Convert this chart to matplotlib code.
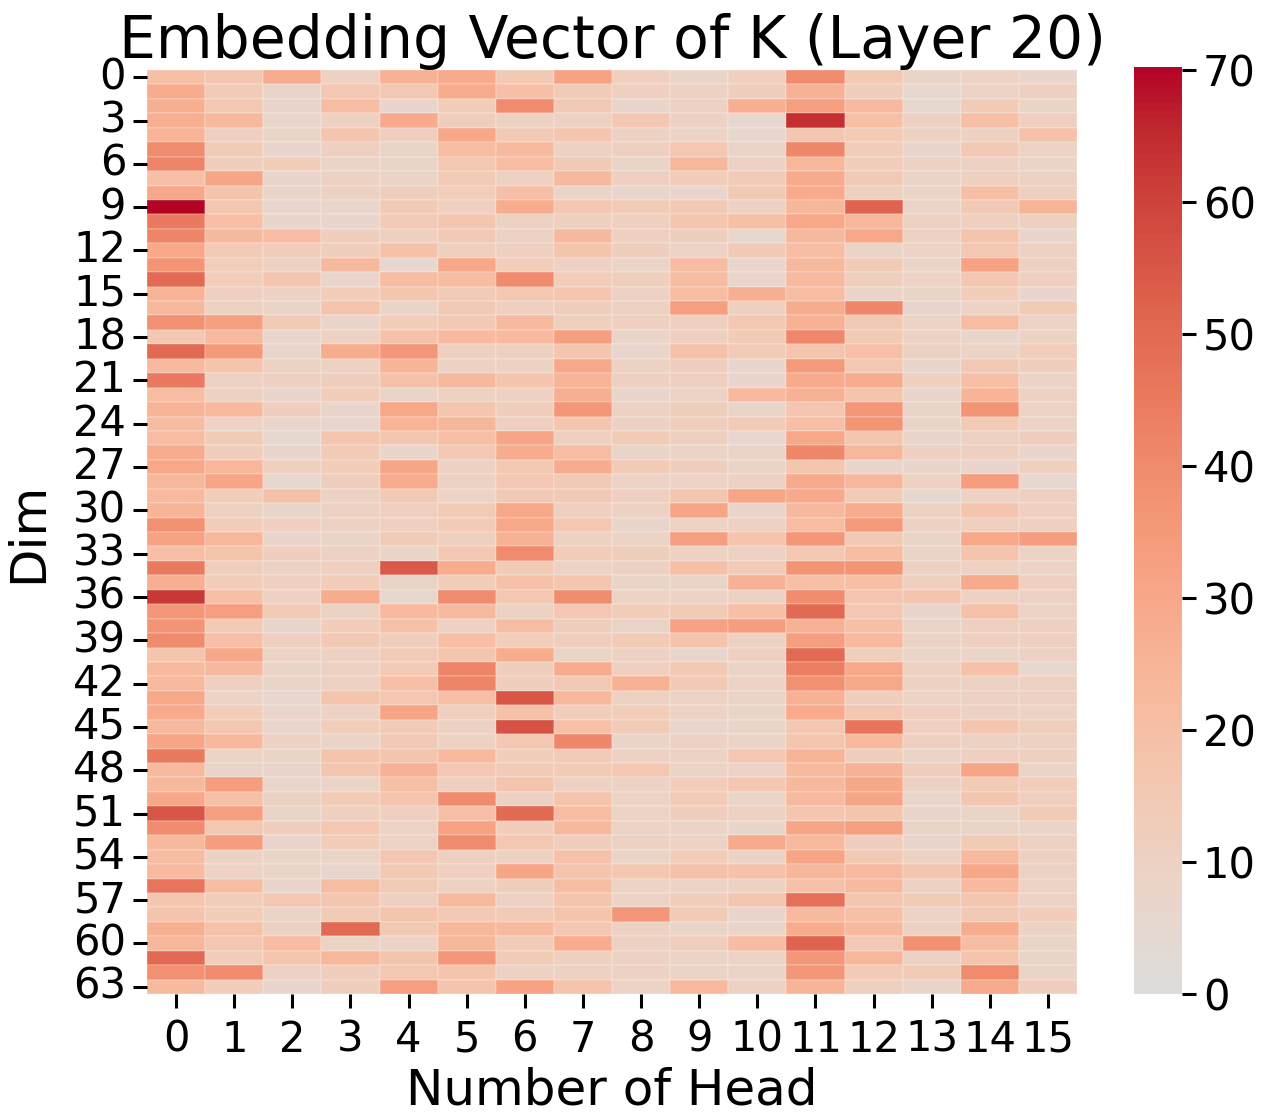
#!/usr/bin/env python3
"""Heatmap of |K| embedding values per head and dim (layer 20)."""

import numpy as np
import matplotlib
matplotlib.use("Agg")
import matplotlib.pyplot as plt
import seaborn as sns

heads = list(range(16))
dims = list(range(64))

# one row per dim, one value per head (0..15)
k_rows = [
    [20, 17, 28, 10, 26, 29, 15, 32, 11, 8, 11, 40, 15, 8, 9, 7],      # 0
    [28, 14, 8, 16, 16, 28, 20, 14, 11, 10, 12, 26, 12, 6, 9, 11],
    [27, 16, 7, 21, 7, 13, 40, 15, 7, 10, 27, 33, 22, 6, 14, 8],
    [27, 23, 7, 10, 29, 12, 10, 10, 16, 10, 6, 64, 20, 10, 20, 11],
    [25, 11, 8, 17, 12, 30, 15, 17, 10, 9, 6, 16, 14, 10, 10, 19],
    [40, 14, 7, 11, 8, 21, 22, 10, 11, 16, 8, 41, 13, 7, 15, 9],
    [42, 12, 13, 8, 8, 16, 21, 15, 8, 24, 10, 24, 13, 10, 10, 8],
    [20, 31, 7, 10, 8, 14, 10, 23, 11, 13, 14, 29, 15, 8, 11, 10],
    [30, 18, 8, 10, 12, 13, 20, 8, 7, 7, 15, 29, 11, 8, 20, 11],
    [70.2, 16, 7, 7, 15, 11, 28, 16, 14, 15, 10, 24, 52, 8, 15, 25],
    [45, 20, 7, 7, 14, 17, 10, 11, 11, 17, 20, 30, 24, 10, 11, 11],   # 10
    [42, 23, 21, 12, 11, 15, 10, 23, 11, 12, 6, 23, 30, 10, 18, 7],
    [30, 14, 13, 12, 19, 11, 11, 18, 12, 9, 15, 21, 8, 9, 16, 10],
    [37, 13, 10, 23, 6, 30, 13, 10, 8, 21, 7, 23, 14, 8, 32, 10],
    [50, 13, 17, 7, 21, 21, 40, 13, 12, 21, 7, 22, 12, 9, 16, 11],
    [25, 11, 10, 13, 17, 14, 16, 17, 10, 21, 27, 21, 8, 8, 13, 7],
    [23, 10, 8, 18, 8, 15, 11, 12, 10, 33, 11, 28, 41, 7, 9, 14],
    [38, 33, 14, 7, 13, 15, 22, 11, 11, 11, 16, 26, 15, 9, 21, 9],
    [16, 22, 7, 10, 19, 22, 22, 33, 8, 11, 14, 41, 14, 9, 7, 9],
    [50, 35, 7, 28, 36, 11, 11, 17, 7, 19, 14, 18, 20, 10, 9, 13],
    [22, 18, 10, 10, 25, 10, 10, 30, 10, 12, 7, 35, 16, 7, 15, 12],   # 20
    [45, 10, 11, 12, 19, 23, 18, 25, 11, 11, 7, 29, 28, 11, 20, 8],
    [21, 10, 7, 13, 8, 10, 10, 27, 7, 9, 22, 26, 18, 7, 25, 10],
    [25, 22, 12, 7, 30, 17, 12, 36, 10, 12, 8, 17, 36, 8, 37, 9],
    [21, 9, 7, 7, 25, 24, 11, 17, 10, 12, 14, 20, 37, 8, 14, 9],
    [21, 14, 6, 17, 17, 20, 31, 11, 14, 11, 6, 30, 17, 7, 10, 12],
    [28, 12, 7, 14, 7, 15, 28, 21, 8, 8, 8, 41, 24, 11, 11, 7],
    [30, 24, 11, 13, 31, 10, 16, 28, 14, 12, 8, 17, 7, 7, 7, 11],
    [24, 31, 6, 12, 28, 10, 16, 15, 9, 9, 10, 29, 24, 10, 34, 6],
    [22, 13, 19, 10, 15, 9, 15, 15, 11, 17, 31, 29, 14, 6, 10, 11],
    [25, 10, 7, 10, 11, 14, 30, 11, 10, 31, 7, 23, 28, 10, 18, 11],   # 30
    [38, 13, 11, 10, 11, 14, 30, 16, 7, 9, 10, 21, 35, 10, 11, 11],
    [32, 24, 7, 8, 14, 11, 26, 10, 9, 33, 18, 36, 15, 8, 30, 34],
    [20, 18, 12, 10, 8, 16, 40, 13, 12, 10, 10, 16, 21, 8, 18, 9],
    [45, 12, 10, 11, 54, 28, 14, 10, 10, 20, 14, 37, 37, 10, 10, 9],
    [27, 13, 11, 13, 8, 13, 19, 17, 8, 8, 26, 20, 20, 11, 29, 11],
    [62, 20, 10, 28, 6, 40, 16, 39, 9, 9, 10, 39, 17, 18, 10, 10],
    [36, 33, 14, 10, 22, 22, 10, 16, 13, 14, 20, 50, 16, 7, 19, 9],
    [37, 14, 7, 13, 19, 10, 21, 12, 8, 32, 34, 26, 20, 8, 11, 11],
    [40, 20, 11, 15, 12, 20, 13, 12, 14, 18, 10, 33, 22, 9, 11, 11],
    [18, 30, 9, 10, 14, 17, 28, 8, 10, 7, 11, 50, 12, 8, 8, 10],      # 40
    [22, 23, 8, 10, 14, 42, 12, 28, 11, 15, 8, 44, 30, 10, 19, 6],
    [22, 11, 8, 10, 20, 42, 12, 15, 26, 15, 9, 38, 30, 10, 10, 10],
    [30, 9, 6, 18, 16, 20, 55, 24, 10, 9, 8, 26, 12, 9, 10, 10],
    [29, 13, 7, 9, 31, 11, 19, 12, 13, 9, 8, 29, 16, 11, 10, 9],
    [23, 16, 7, 13, 14, 10, 56, 20, 14, 7, 8, 16, 47, 11, 17, 12],
    [31, 23, 10, 8, 15, 10, 16, 41, 8, 10, 8, 17, 22, 11, 10, 10],
    [45, 9, 8, 18, 18, 22, 13, 14, 10, 10, 16, 25, 12, 8, 11, 11],
    [22, 8, 7, 17, 26, 16, 14, 14, 16, 9, 9, 22, 26, 12, 31, 8],
    [23, 34, 7, 8, 20, 11, 18, 10, 9, 13, 16, 23, 30, 10, 14, 13],
    [30, 20, 10, 14, 18, 40, 10, 18, 9, 14, 8, 22, 31, 7, 17, 11],    # 50
    [55, 33, 8, 11, 11, 20, 50, 21, 9, 12, 10, 17, 18, 7, 8, 14],
    [40, 16, 12, 16, 9, 32, 13, 23, 9, 8, 7, 31, 33, 8, 8, 8],
    [23, 34, 7, 13, 9, 40, 16, 12, 10, 9, 29, 22, 12, 7, 14, 10],
    [21, 9, 8, 8, 16, 11, 10, 19, 8, 13, 9, 31, 15, 10, 22, 10],
    [22, 9, 8, 7, 15, 11, 31, 18, 16, 19, 19, 24, 22, 17, 30, 10],
    [47, 21, 7, 21, 14, 10, 12, 21, 9, 9, 10, 19, 22, 10, 22, 9],
    [17, 13, 16, 17, 11, 22, 10, 18, 9, 13, 17, 48, 17, 14, 17, 9],
    [18, 13, 8, 14, 18, 15, 14, 18, 36, 14, 7, 22, 20, 9, 15, 13],
    [27, 19, 10, 50, 15, 24, 22, 16, 10, 8, 8, 28, 23, 10, 28, 9],
    [24, 16, 21, 9, 9, 24, 14, 28, 10, 12, 21, 52, 15, 38, 21, 8],    # 60
    [50, 13, 17, 24, 18, 36, 14, 11, 10, 9, 9, 36, 24, 10, 18, 8],
    [38, 40, 10, 12, 16, 18, 10, 10, 10, 8, 8, 36, 14, 14, 40, 8],
    [22, 13, 7, 12, 33, 18, 32, 18, 9, 22, 10, 25, 11, 8, 29, 12],
]

cbar_ticks = [0, 10, 20, 30, 40, 50, 60, 70]

plt.rcParams.update({
    "font.family": "DejaVu Sans",
    "font.size": 30,
})

data = np.array(k_rows, dtype=float)

fig = plt.figure(figsize=(12.62, 11.2), dpi=100)
ax = fig.add_axes([147 / 1262, 1 - 994 / 1120, 930 / 1262, 924 / 1120])
cax = fig.add_axes([1134 / 1262, 1 - 994 / 1120, 48 / 1262, 927 / 1120])

sns.heatmap(
    data, ax=ax, cbar_ax=cax, cmap="coolwarm", center=0, vmin=0,
    linewidths=0.3, linecolor=(1, 1, 1, 0.15),
    xticklabels=heads, yticklabels=dims,
)

ax.set_yticks(np.arange(0, 64, 3) + 0.5)
ax.set_yticklabels([str(d) for d in dims[::3]], rotation=0)
ax.set_xticks(np.arange(16) + 0.5)
ax.set_xticklabels([str(h) for h in heads], rotation=0)
ax.tick_params(axis="y", labelsize=30, length=10, width=2.2, pad=5)
ax.tick_params(axis="x", labelsize=30, length=10, width=2.2, pad=8)

ax.set_title("Embedding Vector of K (Layer 20)", fontsize=42, pad=8)
ax.set_xlabel("Number of Head", fontsize=36, labelpad=4)
ax.set_ylabel("Dim", fontsize=36, labelpad=15)

cax.set_yticks(cbar_ticks)
cax.tick_params(labelsize=30, length=10, width=2.2, pad=5)

fig.savefig("out.png", dpi=100)
